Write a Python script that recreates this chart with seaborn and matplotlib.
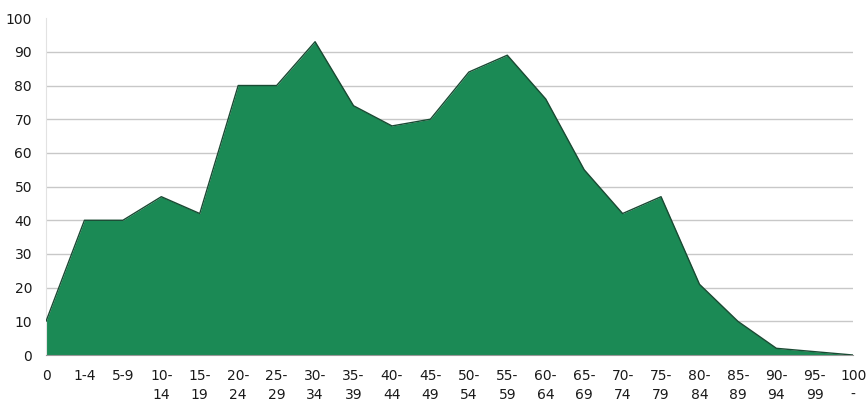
import matplotlib
matplotlib.use("Agg")
import matplotlib.pyplot as plt
import pandas as pd
import seaborn as sns

age_groups = ["0", "1-4", "5-9", "10-\n14", "15-\n19", "20-\n24", "25-\n29", "30-\n34",
              "35-\n39", "40-\n44", "45-\n49", "50-\n54", "55-\n59", "60-\n64", "65-\n69",
              "70-\n74", "75-\n79", "80-\n84", "85-\n89", "90-\n94", "95-\n99", "100\n-"]
values = [10, 40, 40, 47, 42, 80, 80, 93, 74, 68, 70, 84, 89, 76, 55, 42, 47, 21, 10, 2, 1, 0]
y_ticks = [0, 10, 20, 30, 40, 50, 60, 70, 80, 90, 100]

df = pd.DataFrame({"pos": range(len(age_groups)), "value": values})

sns.set_style("white")
plt.rcParams["font.family"] = ["DejaVu Sans"]

fig = plt.figure(figsize=(8.68, 4.03), dpi=100)
ax = fig.add_axes([0.053, 0.119, 0.930, 0.836])

fill_color = "#1b8a55"
sns.lineplot(data=df, x="pos", y="value", color="#1a4a33", linewidth=1.0, ax=ax, zorder=3)
ax.fill_between(df["pos"], df["value"], 0, color=fill_color, linewidth=0, zorder=2)

ax.set_xlim(0, len(age_groups) - 1)
ax.set_ylim(0, 100)
ax.set_yticks(y_ticks)
ax.set_xticks(df["pos"])
ax.set_xticklabels(age_groups, fontsize=10, linespacing=1.45, color="#1a1a1a")
for lbl in ax.get_yticklabels():
    lbl.set_color("#1a1a1a")
ax.tick_params(axis="y", labelsize=10, length=4, color="#cccccc", pad=6)
ax.tick_params(axis="x", length=4, color="#cccccc", pad=6, direction="out")

# horizontal gridlines, none at the top
for t in y_ticks[1:-1]:
    ax.axhline(t, color="#c8c8c8", linewidth=1.0, zorder=0)

for side in ["top", "right"]:
    ax.spines[side].set_visible(False)
ax.spines["left"].set_color("#e2e2e2")
ax.spines["bottom"].set_color("#999999")
ax.set_xlabel("")
ax.set_ylabel("")

plt.savefig("out.png", dpi=100)
